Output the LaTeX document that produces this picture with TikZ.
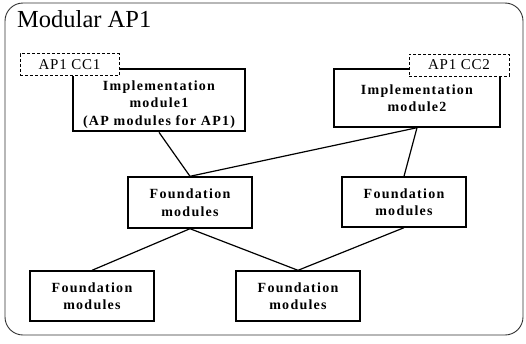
\documentclass[tikz,border=0pt]{standalone}
\usepackage{fontspec}
\setmainfont{Liberation Serif}
\newfontfamily\boxfont[LetterSpace=9]{Liberation Serif}
\newfontfamily\tagfont[LetterSpace=5]{Liberation Serif}
\begin{document}
\begin{tikzpicture}[x=1pt,y=-1pt,
  module/.style={draw=black,line width=1.4pt,fill=white,inner sep=0pt,align=center,
    font=\boxfont\bfseries\fontsize{14}{17.5}\selectfont},
  caption/.style={inner sep=0pt,align=center,
    font=\boxfont\bfseries\fontsize{14}{17.5}\selectfont},
  tagbox/.style={draw=black,line width=1pt,dash pattern=on 3pt off 2pt,fill=white,
    inner sep=0pt,minimum width=99pt,minimum height=22pt,
    font=\tagfont\fontsize{15}{18}\selectfont},
  link/.style={draw=black,line width=1.2pt}]
\useasboundingbox (0,0) rectangle (526,343);
% outer frame
\draw[line width=0.9pt,draw=black!80,rounded corners=18pt] (5,3) rectangle (523,335);
\node[anchor=base west,inner sep=0pt,font=\fontsize{24.5}{27}\selectfont] (title) at (17,27.5) {Modular AP1};
% implementation modules
\node[module,line width=2.6pt,minimum width=172pt,minimum height=62pt] (impl1) at (159,100) {};
\node[caption] (impl1text) at (159,104.5) {Implementation\\module1\\(AP modules for AP1)};
\node[module,minimum width=166pt,minimum height=58pt] (impl2) at (417,98)
  {Implementation\\module2};
% conformance class tags
\node[tagbox] (cc1) at (69.5,64.5) {AP1 CC1};
\node[tagbox,minimum width=100pt] (cc2) at (459,65) {AP1 CC2};
% foundation modules
\node[module,minimum width=124pt,minimum height=51pt] (f1) at (190,202.5) {Foundation\\modules};
\node[module,minimum width=124pt,minimum height=50pt] (f2) at (404,202) {Foundation\\modules};
\node[module,minimum width=124pt,minimum height=50pt] (b1) at (92,296) {Foundation\\modules};
\node[module,minimum width=124pt,minimum height=50pt] (b2) at (298,296) {Foundation\\modules};
% dependencies
\draw[link] (impl1.south) -- (f1.north);
\draw[link] (impl2.south) -- (f1.north);
\draw[link] (impl2.south) -- (f2.north);
\draw[link] (f1.south) -- (b1.north);
\draw[link] (f1.south) -- (b2.north);
\draw[link] (f2.south) -- (b2.north);
\end{tikzpicture}
\end{document}
